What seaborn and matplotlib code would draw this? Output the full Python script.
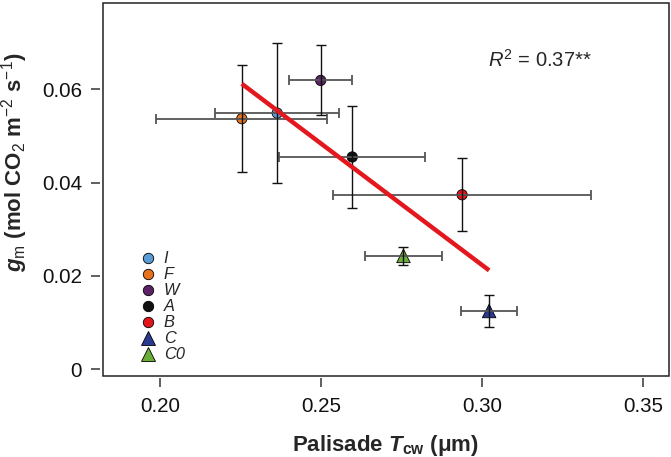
import numpy as np
import pandas as pd
import seaborn as sns
import matplotlib.pyplot as plt
from matplotlib.lines import Line2D
from matplotlib.patches import Rectangle

# values
groups = ["I", "F", "W", "A", "B", "C", "C0"]
tcw = [0.2364, 0.2254, 0.2499, 0.2597, 0.2938, 0.3022, 0.2756]
tcw_err = [0.0192, 0.0266, 0.0097, 0.0226, 0.0400, 0.0086, 0.0119]
gm = [0.0549, 0.0537, 0.0619, 0.0455, 0.0374, 0.0125, 0.0243]
gm_err = [0.0150, 0.0115, 0.0075, 0.0109, 0.0078, 0.0035, 0.0020]
colors = ["#5b9bd5", "#e8711c", "#5c2166", "#111111", "#e4141b", "#2b3990", "#6aae3a"]
markers = ["o", "o", "o", "o", "o", "^", "^"]
r2_text = r"$R^{\mathrm{2}}$ = 0.37**"

df = pd.DataFrame({"group": groups, "tcw": tcw, "gm": gm})
palette = dict(zip(groups, colors))
marker_map = dict(zip(groups, markers))
size_map = {g: (95 if m == "^" else 55) for g, m in zip(groups, markers)}

sns.set_theme(style="white")
plt.rcParams["font.family"] = ["Liberation Sans", "DejaVu Sans"]
plt.rcParams["mathtext.fontset"] = "custom"
plt.rcParams["mathtext.rm"] = "Liberation Sans"
plt.rcParams["mathtext.it"] = "Liberation Sans:italic"
plt.rcParams["mathtext.bf"] = "Liberation Sans:bold"
plt.rcParams["mathtext.bfit"] = "Liberation Sans:bold:italic"

fig, ax = plt.subplots(figsize=(6.71, 4.57), dpi=100)
fig.subplots_adjust(left=0.1531, right=0.9963, bottom=0.1779, top=0.9941)

sns.scatterplot(data=df, x="tcw", y="gm", hue="group", style="group", size="group",
                palette=palette, markers=marker_map, sizes=size_map,
                edgecolor="black", linewidth=0.6, legend=False, zorder=1, ax=ax)

# error bars drawn over the markers
ax.errorbar(tcw, gm, xerr=tcw_err, fmt="none", ecolor="#555555", elinewidth=1.3,
            capsize=3.6, capthick=1.3, zorder=3)
ax.errorbar(tcw, gm, yerr=gm_err, fmt="none", ecolor="#111111", elinewidth=1.0,
            capsize=3.6, capthick=1.0, zorder=3.5)

sns.regplot(data=df, x="tcw", y="gm", scatter=False, ci=None, truncate=True,
            color="#e3171e", line_kws={"lw": 3.2, "zorder": 5, "solid_capstyle": "butt"}, ax=ax)

ax.set_xlim(0.18222, 0.3579)
ax.set_ylim(-0.00137, 0.07856)
ax.set_xticks([0.20, 0.25, 0.30, 0.35])
ax.set_yticks([0, 0.02, 0.04, 0.06])
ax.xaxis.set_major_formatter(plt.FuncFormatter(lambda v, p: f"{v:.2f}"))
ax.yaxis.set_major_formatter(plt.FuncFormatter(lambda v, p: "0" if abs(v) < 1e-9 else f"{v:.2f}"))

# R-style axes: ticks detached from the box
for side in ["bottom", "left"]:
    ax.spines[side].set_position(("outward", 2))
for side in ax.spines:
    ax.spines[side].set_visible(False)
ax.add_patch(Rectangle((0, 0), 1, 1, transform=ax.transAxes, fill=False,
                       edgecolor="#222222", lw=1.1, clip_on=False, zorder=6))
ax.tick_params(axis="both", which="major", direction="out", length=6.5, width=1.2,
               color="#444444", labelsize=14.8, labelcolor="#111111", pad=6.5,
               bottom=True, left=True)

ax.set_xlabel(r"Palisade $\mathbfit{T}_{\mathbf{cw}}$ (μm)", fontsize=16, fontweight="bold")
ax.set_ylabel(r"$\mathbfit{g}_{\mathrm{m}}$ (mol CO$_{\mathrm{2}}$ m$^{\mathrm{-2}}$ s$^{\mathrm{-1}}$)",
              fontsize=16, fontweight="bold")
ax.xaxis.set_label_coords(0.5, -0.154)
ax.yaxis.set_label_coords(-0.1285, 0.573)

ax.text(0.681, 0.828, r2_text, transform=ax.transAxes, fontsize=14.5, va="baseline", ha="left")

handles = [Line2D([], [], linestyle="none", marker=marker_map[g], markerfacecolor=palette[g],
                  markeredgecolor="black", markeredgewidth=0.6,
                  markersize=(9.5 if marker_map[g] == "^" else 7.5)) for g in groups]
leg = ax.legend(handles, groups, loc="lower left", bbox_to_anchor=(0.066, 0.036),
                frameon=False, fontsize=11.8, handlelength=1.0, handletextpad=0.45,
                labelspacing=0.06, borderpad=0, borderaxespad=0)
for t in leg.get_texts():
    t.set_fontstyle("italic")

fig.savefig("out.png", dpi=100)
